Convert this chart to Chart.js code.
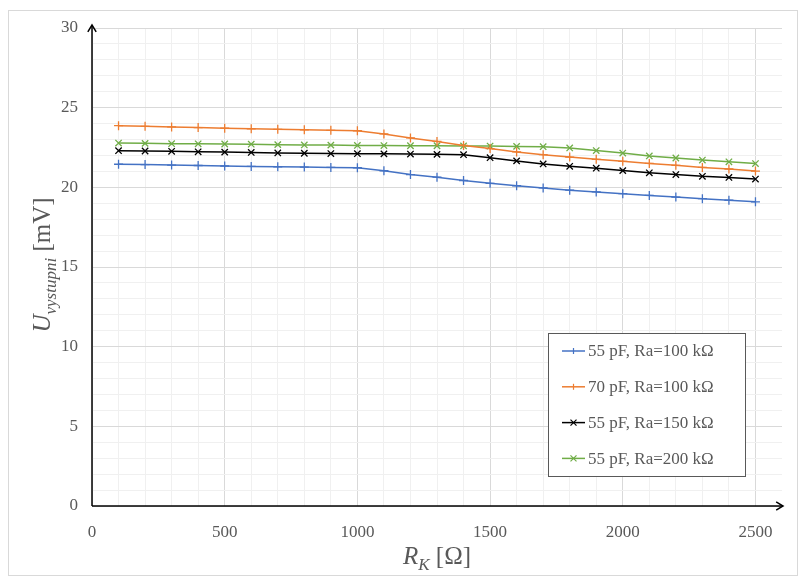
<!DOCTYPE html>
<html>
<head>
<meta charset="utf-8">
<script src="https://cdn.jsdelivr.net/npm/chart.js@4.4.1/dist/chart.umd.min.js"></script>
<style>
  body { margin: 0; background: #ffffff; }
  #wrap { position: relative; width: 798px; height: 576px; }
  #frame {
    position: absolute; left: 8px; top: 10px; width: 788px; height: 564px;
    border: 1px solid #d9d9d9; pointer-events: none;
  }
  canvas { position: absolute; left: 0; top: 0; }
</style>
</head>
<body>
<div id="wrap">
  <canvas id="chart" width="798" height="576"></canvas>
  <div id="frame"></div>
</div>
<script>
const resistance = [100, 200, 300, 400, 500, 600, 700, 800, 900, 1000, 1100, 1200, 1300,
  1400, 1500, 1600, 1700, 1800, 1900, 2000, 2100, 2200, 2300, 2400, 2500];

const u55pf100k = [21.45, 21.43, 21.40, 21.37, 21.34, 21.31, 21.29, 21.27, 21.25, 21.23,
  21.04, 20.80, 20.64, 20.43, 20.25, 20.10, 19.96, 19.82, 19.71, 19.60, 19.49, 19.39,
  19.29, 19.19, 19.09];
const u70pf100k = [23.87, 23.83, 23.79, 23.75, 23.71, 23.67, 23.64, 23.61, 23.58, 23.55,
  23.35, 23.10, 22.88, 22.63, 22.43, 22.22, 22.05, 21.90, 21.76, 21.63, 21.50, 21.38,
  21.25, 21.15, 21.02];
const u55pf150k = [22.30, 22.28, 22.26, 22.23, 22.21, 22.19, 22.16, 22.14, 22.12, 22.11,
  22.10, 22.09, 22.07, 22.05, 21.86, 21.66, 21.47, 21.32, 21.20, 21.05, 20.91, 20.80,
  20.69, 20.62, 20.52];
const u55pf200k = [22.78, 22.76, 22.74, 22.73, 22.72, 22.71, 22.68, 22.66, 22.65, 22.63,
  22.62, 22.61, 22.61, 22.60, 22.59, 22.57, 22.55, 22.47, 22.31, 22.15, 21.97, 21.84,
  21.71, 21.60, 21.49];

const seriesLabels = ["55 pF, Ra=100 kΩ", "70 pF, Ra=100 kΩ", "55 pF, Ra=150 kΩ", "55 pF, Ra=200 kΩ"];
const seriesColors = ["#4472c4", "#ed7d31", "#000000", "#70ad47"];
const seriesMarkers = ["cross", "cross", "crossRot", "crossRot"];
const seriesValues = [u55pf100k, u70pf100k, u55pf150k, u55pf200k];

const xMajorTicks = [0, 500, 1000, 1500, 2000, 2500];
const yMajorTicks = [0, 5, 10, 15, 20, 25, 30];

const serif = "'Liberation Serif', 'Times New Roman', serif";
const textGray = "#595959";

const datasets = seriesValues.map((values, i) => ({
  label: seriesLabels[i],
  data: values.map((v, j) => ({ x: resistance[j], y: v })),
  borderColor: seriesColors[i],
  backgroundColor: seriesColors[i],
  borderWidth: 1.5,
  pointStyle: seriesMarkers[i],
  pointRadius: 4.5,
  pointBorderWidth: 1.3,
  pointBorderColor: seriesColors[i],
  tension: 0,
}));

// black axes with open arrow heads
function drawArrow(ctx, x1, y1, x2, y2) {
  const ang = Math.atan2(y2 - y1, x2 - x1);
  ctx.beginPath();
  ctx.moveTo(x1, y1);
  ctx.lineTo(x2, y2);
  ctx.stroke();
  ctx.beginPath();
  ctx.moveTo(x2 - 8 * Math.cos(ang - 0.55), y2 - 8 * Math.sin(ang - 0.55));
  ctx.lineTo(x2, y2);
  ctx.lineTo(x2 - 8 * Math.cos(ang + 0.55), y2 - 8 * Math.sin(ang + 0.55));
  ctx.stroke();
}

// title like "U_sub [unit]", centred on the current origin
function drawSubTitle(ctx, main, sub, rest) {
  const bigFont = "italic 25px " + serif;
  const subFont = "italic 17px " + serif;
  const restFont = "25px " + serif;
  ctx.font = bigFont;
  const w1 = ctx.measureText(main).width;
  ctx.font = subFont;
  const w2 = ctx.measureText(sub).width;
  ctx.font = restFont;
  const w3 = ctx.measureText(rest).width;
  let x = -(w1 + w2 + w3) / 2;
  ctx.textAlign = "left";
  ctx.textBaseline = "alphabetic";
  ctx.font = bigFont;
  ctx.fillText(main, x, 0);
  x += w1;
  ctx.font = subFont;
  ctx.fillText(sub, x, 6);
  x += w2;
  ctx.font = restFont;
  ctx.fillText(rest, x, 0);
}

const decorPlugin = {
  id: "decor",
  afterDraw(chart) {
    const ctx = chart.ctx;
    const area = chart.chartArea;
    ctx.save();
    ctx.strokeStyle = "#000000";
    ctx.lineWidth = 1.5;
    drawArrow(ctx, area.left, area.bottom, area.right + 1, area.bottom);
    drawArrow(ctx, area.left, area.bottom, area.left, area.top - 3);

    // axis titles
    ctx.fillStyle = textGray;
    ctx.save();
    ctx.translate(50, 265);
    ctx.rotate(-Math.PI / 2);
    drawSubTitle(ctx, "U", "vystupni", " [mV]");
    ctx.restore();
    ctx.save();
    ctx.translate(437, 564);
    drawSubTitle(ctx, "R", "K", " [Ω]");
    ctx.restore();

    // legend box
    const lx = 548, ly = 333, lw = 197, lh = 143;
    ctx.fillStyle = "#ffffff";
    ctx.fillRect(lx, ly, lw, lh);
    ctx.strokeStyle = "#595959";
    ctx.lineWidth = 1;
    ctx.strokeRect(lx + 0.5, ly + 0.5, lw, lh);
    seriesLabels.forEach((label, i) => {
      const cy = 351 + i * 35.8;
      ctx.strokeStyle = seriesColors[i];
      ctx.lineWidth = 1.5;
      ctx.beginPath();
      ctx.moveTo(562, cy);
      ctx.lineTo(585, cy);
      ctx.stroke();
      const r = 3;
      ctx.lineWidth = 1.2;
      ctx.beginPath();
      if (seriesMarkers[i] === "cross") {
        ctx.moveTo(573.5, cy - r);
        ctx.lineTo(573.5, cy + r);
      } else {
        ctx.moveTo(573.5 - r, cy - r);
        ctx.lineTo(573.5 + r, cy + r);
        ctx.moveTo(573.5 - r, cy + r);
        ctx.lineTo(573.5 + r, cy - r);
      }
      ctx.stroke();
      ctx.fillStyle = textGray;
      ctx.font = "17px " + serif;
      ctx.textAlign = "left";
      ctx.textBaseline = "middle";
      ctx.fillText(label, 588, cy + 1);
    });
    ctx.restore();
  },
};

new Chart(document.getElementById("chart"), {
  type: "line",
  data: { datasets: datasets },
  options: {
    responsive: false,
    animation: false,
    layout: { padding: { left: 0, top: 28, right: 14, bottom: 0 } },
    plugins: {
      legend: { display: false },
      tooltip: { enabled: false },
    },
    scales: {
      x: {
        type: "linear",
        min: 0,
        max: 2600,
        afterFit: (scale) => { scale.height = 70; },
        border: { display: false },
        grid: {
          drawTicks: false,
          lineWidth: 1,
          color: (c) => {
            const v = c.tick.value;
            if (v > 2500) return "rgba(0,0,0,0)";
            return xMajorTicks.includes(v) ? "#d9d9d9" : "#f0f0f0";
          },
        },
        ticks: {
          stepSize: 100,
          autoSkip: false,
          maxRotation: 0,
          padding: 16,
          color: textGray,
          font: { family: serif, size: 17 },
          callback: (v) => (xMajorTicks.includes(v) ? String(v) : ""),
        },
      },
      y: {
        min: 0,
        max: 30,
        afterFit: (scale) => { scale.width = 92; },
        border: { display: false },
        grid: {
          drawTicks: false,
          lineWidth: 1,
          color: (c) => (yMajorTicks.includes(c.tick.value) ? "#d9d9d9" : "#f0f0f0"),
        },
        ticks: {
          stepSize: 1,
          autoSkip: false,
          padding: 14,
          color: textGray,
          font: { family: serif, size: 17 },
          callback: (v) => (yMajorTicks.includes(v) ? String(v) : ""),
        },
      },
    },
  },
  plugins: [decorPlugin],
});
</script>
</body>
</html>
